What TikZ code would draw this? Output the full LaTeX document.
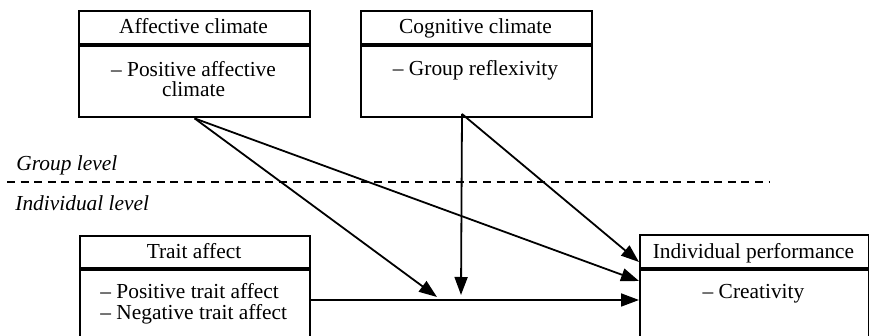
\documentclass[tikz,border=0pt]{standalone}
\usepackage{fontspec}
\setmainfont{Liberation Serif}
\usetikzlibrary{arrows.meta}
\begin{document}
\begin{tikzpicture}[x=0.5pt,y=-0.5pt,
  frame/.style={draw, line width=1.1pt, inner sep=0pt, anchor=north west},
  txt/.style={font=\fontsize{10.7}{12}\selectfont, inner sep=0pt, anchor=base},
  txtl/.style={font=\fontsize{10.7}{12}\selectfont, inner sep=0pt, anchor=base west},
  lvl/.style={font=\fontsize{10.7}{12}\selectfont\itshape, inner sep=0pt, anchor=base west},
  conn/.style={line width=0.9pt, -{Triangle[length=9pt,width=6.5pt]}},
  divider/.style={line width=1.1pt, dash pattern=on 4pt off 2.8pt},
]
\useasboundingbox (0,0) rectangle (869,336);
\clip (0,0) rectangle (869,336);

% Affective climate
\node[frame, minimum width=115.5pt, minimum height=16.5pt] (achead) at (78,10) {};
\node[frame, minimum width=115.5pt, minimum height=35.5pt] (acbody) at (achead.south west) {};
\node[txt] (actitle) at (193.5,34) {Affective climate};
\node[txt] (acl1) at (193.5,77) {– Positive affective};
\node[txt] (acl2) at (193.5,97) {climate};

% Cognitive climate
\node[frame, minimum width=115.5pt, minimum height=16.5pt] (cchead) at (360,10) {};
\node[frame, minimum width=115.5pt, minimum height=35.5pt] (ccbody) at (cchead.south west) {};
\node[txt] (cctitle) at (475.5,34) {Cognitive climate};
\node[txt] (ccl1) at (475.5,76) {– Group reflexivity};

% Trait affect
\node[frame, minimum width=115pt, minimum height=16pt] (tahead) at (79,235) {};
\node[frame, minimum width=115pt, minimum height=41.5pt] (tabody) at (tahead.south west) {};
\node[txt] (tatitle) at (194,259) {Trait affect};
\node[txtl] (tal1) at (100,299) {– Positive trait affect};
\node[txtl] (tal2) at (100,320) {– Negative trait affect};

% Individual performance
\node[frame, minimum width=114.5pt, minimum height=16.5pt] (iphead) at (639,234) {};
\node[frame, minimum width=114.5pt, minimum height=41.5pt] (ipbody) at (iphead.south west) {};
\node[txt] (iptitle) at (753.5,259) {Individual performance};
\node[txt] (ipl1) at (753.5,299) {– Creativity};

% Levels
\node[lvl] (glevel) at (16,171) {Group level};
\node[lvl] (ilevel) at (15,211) {Individual level};
\coordinate (dl) at (7,182);
\coordinate (dr) at (770,182);
\draw[divider] (dl) -- (dr);

% Connectors
\coordinate (acout) at (acbody.south);
\coordinate (ccout) at (462,114);
\coordinate (mA) at (437,297);
\coordinate (mC) at (461,295);
\coordinate (ipA) at (639,281);
\coordinate (ipC) at (639,262);
\coordinate (taout) at (309,300);
\coordinate (ipT) at (639,300);

\draw[conn] (acout) -- (mA);
\draw[conn] (acout) -- (ipA);
\draw[conn] (ccout) -- (mC);
\draw[conn] (ccout) -- (ipC);
\draw[conn] (taout) -- (ipT);
\end{tikzpicture}
\end{document}
